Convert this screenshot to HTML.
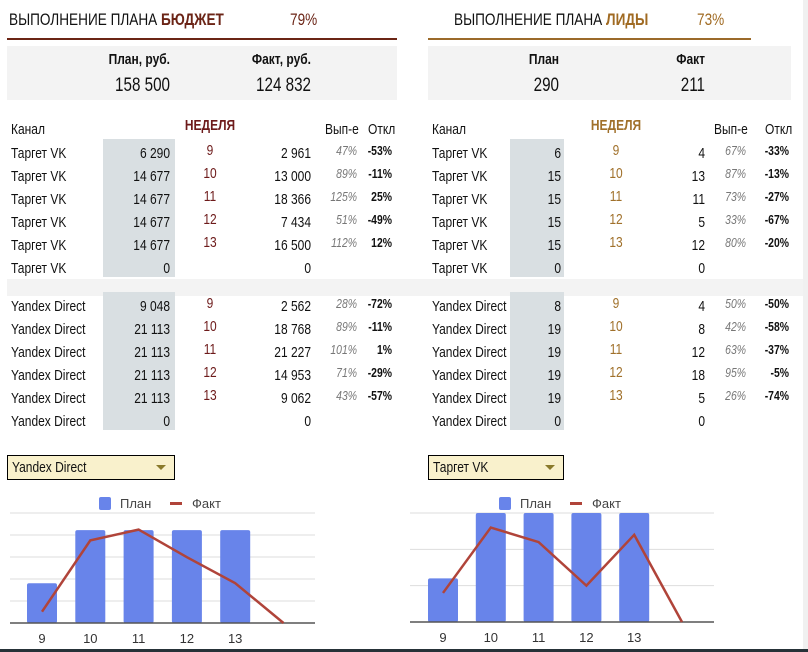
<!DOCTYPE html>
<html><head><meta charset="utf-8">
<style>
*{margin:0;padding:0;box-sizing:border-box}
body{width:808px;height:652px;position:relative;background:#fff;overflow:hidden;font-family:"Liberation Sans Narrow","Liberation Sans",sans-serif;color:#111}
.a{position:absolute;white-space:nowrap}
.r{text-align:right}
.c{text-align:center}
.nl{transform:scaleX(.8);transform-origin:left center}
.nr{transform:scaleX(.8);transform-origin:right center}
.nc{transform:scaleX(.8);transform-origin:center center}
.t{font-size:15px;line-height:16px}
.pct{font-size:13px;font-style:italic;color:#777;line-height:16px}
.dev{font-size:13px;font-weight:bold;line-height:16px}
</style></head><body>
<div class="a" style="left:803px;top:0;width:5px;height:652px;background:#f0f0f0"></div>
<div class="a" style="left:0;top:649px;width:808px;height:3px;background:#263238"></div>

<!-- left header -->
<div class="a nl" style="left:9px;top:10px;font-size:17px">ВЫПОЛНЕНИЕ ПЛАНА <span style="color:#6b2416;font-weight:bold">БЮДЖЕТ</span></div>
<div class="a nl" style="left:290px;top:10px;font-size:17px;color:#6b2416">79%</div>
<div class="a" style="left:7px;top:38px;width:390px;height:2px;background:#6b2515"></div>
<div class="a" style="left:7px;top:46px;width:390px;height:54px;background:#f3f3f3"></div>
<div class="a r nr" style="left:70px;width:100px;top:51px;font-size:15px;font-weight:bold">План, руб.</div>
<div class="a r nr" style="left:70px;width:100px;top:75px;font-size:19px">158 500</div>
<div class="a r nr" style="left:211px;width:100px;top:51px;font-size:15px;font-weight:bold">Факт, руб.</div>
<div class="a r nr" style="left:211px;width:100px;top:75px;font-size:19px">124 832</div>

<!-- right header -->
<div class="a nl" style="left:454px;top:10px;font-size:17px">ВЫПОЛНЕНИЕ ПЛАНА <span style="color:#a06a22;font-weight:bold">ЛИДЫ</span></div>
<div class="a nl" style="left:697px;top:10px;font-size:17px;color:#a06a22">73%</div>
<div class="a" style="left:428px;top:38px;width:323px;height:2px;background:#9b6a2a"></div>
<div class="a" style="left:428px;top:46px;width:363px;height:54px;background:#f3f3f3"></div>
<div class="a r nr" style="left:459px;width:100px;top:51px;font-size:15px;font-weight:bold">План</div>
<div class="a r nr" style="left:459px;width:100px;top:75px;font-size:19px">290</div>
<div class="a r nr" style="left:605px;width:100px;top:51px;font-size:15px;font-weight:bold">Факт</div>
<div class="a r nr" style="left:605px;width:100px;top:75px;font-size:19px">211</div>

<div class="a" style="left:7px;top:279px;width:796px;height:17px;background:#f3f3f3"></div>

<!-- dropdowns -->
<div class="a" style="left:7px;top:455px;width:168px;height:25px;background:#f9f1cc;border:1px solid #000;font-size:15px;line-height:23px;padding-left:4px"><span class="nl" style="display:inline-block">Yandex Direct</span><span style="position:absolute;right:8px;top:9px;border-left:5px solid transparent;border-right:5px solid transparent;border-top:5px solid #8a7a2a"></span></div>
<div class="a" style="left:428px;top:455px;width:136px;height:25px;background:#f9f1cc;border:1px solid #000;font-size:15px;line-height:23px;padding-left:4px"><span class="nl" style="display:inline-block">Таргет VK</span><span style="position:absolute;right:8px;top:9px;border-left:5px solid transparent;border-right:5px solid transparent;border-top:5px solid #8a7a2a"></span></div>

<svg class="a" id="chartL" style="left:0;top:485px" width="404" height="160"></svg>
<svg class="a" id="chartR" style="left:404px;top:485px" width="400" height="160"></svg>

<script>
// ---- table data ----
const weeks = ["9","10","11","12","13",""];
const budgetVkPlan = ["6 290","14 677","14 677","14 677","14 677","0"];
const budgetVkFact = ["2 961","13 000","18 366","7 434","16 500","0"];
const budgetVkPct = ["47%","89%","125%","51%","112%",""];
const budgetVkDev = ["-53%","-11%","25%","-49%","12%",""];
const budgetYdPlan = ["9 048","21 113","21 113","21 113","21 113","0"];
const budgetYdFact = ["2 562","18 768","21 227","14 953","9 062","0"];
const budgetYdPct = ["28%","89%","101%","71%","43%",""];
const budgetYdDev = ["-72%","-11%","1%","-29%","-57%",""];
const leadsVkPlan = ["6","15","15","15","15","0"];
const leadsVkFact = ["4","13","11","5","12","0"];
const leadsVkPct = ["67%","87%","73%","33%","80%",""];
const leadsVkDev = ["-33%","-13%","-27%","-67%","-20%",""];
const leadsYdPlan = ["8","19","19","19","19","0"];
const leadsYdFact = ["4","8","12","18","5","0"];
const leadsYdPct = ["50%","42%","63%","95%","26%",""];
const leadsYdDev = ["-50%","-58%","-37%","-5%","-74%",""];

// ---- chart data ----
const chartCats = ["9","10","11","12","13",""];
const budgetPlanSeries = [9048,21113,21113,21113,21113,null];
const budgetFactSeries = [2562,18768,21227,14953,9062,0];
const leadsPlanSeries = [6,15,15,15,15,null];
const leadsFactSeries = [4,13,11,5,12,0];

function txt(x,y,w,cls,s,style,name){
  const d=document.createElement('div');
  let n=' nl';
  if(cls.indexOf(' r')>=0)n=' nr';
  if(cls.indexOf(' c')>=0)n=' nc';
  d.className='a '+cls+n;
  d.style.left=x+'px';d.style.top=y+'px';
  if(w)d.style.width=w+'px';
  if(style)d.style.cssText+=style;
  d.textContent=s;
  
  
  document.body.appendChild(d);
}
function block(G,top,rowNames,channel,plan,fact,pct,dev,weekColor){
  const col=document.createElement('div');
  col.className='a';
  col.style.cssText='left:'+G.colL+'px;top:'+(top-7)+'px;width:'+G.colW+'px;height:138px;background:#d9dfe2';
  
  
  document.body.appendChild(col);
  for(let i=0;i<6;i++){
    const y=top+i*23;
    txt(G.ch,y,0,'t',channel,'','channel-cell');
    txt(G.planR-80,y,80,'t r',plan[i],'','plan-cell');
    txt(G.wk-20,y-3,40,'t c',weeks[i],'color:'+weekColor,'week-cell');
    txt(G.factR-80,y,80,'t r',fact[i],'','fact-cell');
    txt(G.pctR-50,y-3,50,'pct r',pct[i],'','completion-cell');
    txt(G.devR-50,y-3,50,'dev r',dev[i],'','deviation-cell');
  }
}
const GL={ch:11,colL:103,colW:72,planR:170,wk:210,factR:311,pctR:357,devR:392};
const GR={ch:432,colL:510,colW:54,planR:561,wk:616,factR:705,pctR:746,devR:789};
[[GL,'#6d1a1a'],[GR,'#a0702a']].forEach(([G,c])=>{
  txt(G.ch,122,0,'t','Канал','','channel-header');
  txt(G.wk-40,118,80,'t c','НЕДЕЛЯ','font-weight:bold;color:'+c,'week-header');
  txt(G.pctR-40,122,40,'t r','Вып-е','','completion-header');
  txt(G.devR-30,122,30,'t r','Откл','','deviation-header');
});
block(GL,146,0,'Таргет VK',budgetVkPlan,budgetVkFact,budgetVkPct,budgetVkDev,'#6d1a1a');
block(GL,299,0,'Yandex Direct',budgetYdPlan,budgetYdFact,budgetYdPct,budgetYdDev,'#6d1a1a');
block(GR,146,0,'Таргет VK',leadsVkPlan,leadsVkFact,leadsVkPct,leadsVkDev,'#a0702a');
block(GR,299,0,'Yandex Direct',leadsYdPlan,leadsYdFact,leadsYdPct,leadsYdDev,'#a0702a');

// ---- charts ----
const NS='http://www.w3.org/2000/svg';
function el(svg,tag,attrs,name){
  const e=document.createElementNS(NS,tag);
  for(const k in attrs)e.setAttribute(k,attrs[k]);
  
  
  svg.appendChild(e);return e;
}
function chart(svg,C,plan,fact){
  const yScale=v=>C.base-v/C.max*(C.base-C.top);
  const xScale=i=>C.x0+i*C.step;
  for(let k=0;k<=C.max;k+=C.grid){
    if(k===0)continue;
    el(svg,'line',{x1:C.pl,x2:C.pr,y1:yScale(k),y2:yScale(k),stroke:'#ddd','stroke-width':1},'gridline');
  }
  plan.forEach((v,i)=>{
    if(v==null)return;
    el(svg,'rect',{x:xScale(i)-15,y:yScale(v),width:30,height:C.base-yScale(v),fill:'#6884ea',rx:2},'plan-bar');
  });
  el(svg,'line',{x1:C.pl,x2:C.pr,y1:C.base,y2:C.base,stroke:'#555','stroke-width':1.5},'x-axis');
  el(svg,'polyline',{points:fact.map((v,i)=>xScale(i)+','+yScale(v)).join(' '),fill:'none',stroke:'#b0443a','stroke-width':2.5},'fact-line');
  chartCats.forEach((c,i)=>{
    const t=el(svg,'text',{x:xScale(i),y:C.base+20,'text-anchor':'middle','font-size':13,fill:'#333','font-family':'Liberation Sans, sans-serif'},'x-tick-label');
    t.textContent=c;
  });
  el(svg,'rect',{x:C.lg,y:12,width:12,height:13,fill:'#6884ea',rx:2},'legend-plan-swatch');
  const t1=el(svg,'text',{x:C.lg+21,y:23,'font-size':13,fill:'#444','font-family':'Liberation Sans, sans-serif'},'legend-plan-label');t1.textContent='План';
  el(svg,'rect',{x:C.lg+71,y:17,width:12,height:3,fill:'#b0443a'},'legend-fact-swatch');
  const t2=el(svg,'text',{x:C.lg+93,y:23,'font-size':13,fill:'#444','font-family':'Liberation Sans, sans-serif'},'legend-fact-label');t2.textContent='Факт';
}
chart(document.getElementById('chartL'),{base:138,top:28,max:25000,grid:5000,x0:42,step:48.3,pl:10,pr:315,lg:99},budgetPlanSeries,budgetFactSeries);
chart(document.getElementById('chartR'),{base:137,top:28,max:15,grid:5,x0:39,step:47.8,pl:6,pr:310,lg:95},leadsPlanSeries,leadsFactSeries);
</script>
</body></html>
